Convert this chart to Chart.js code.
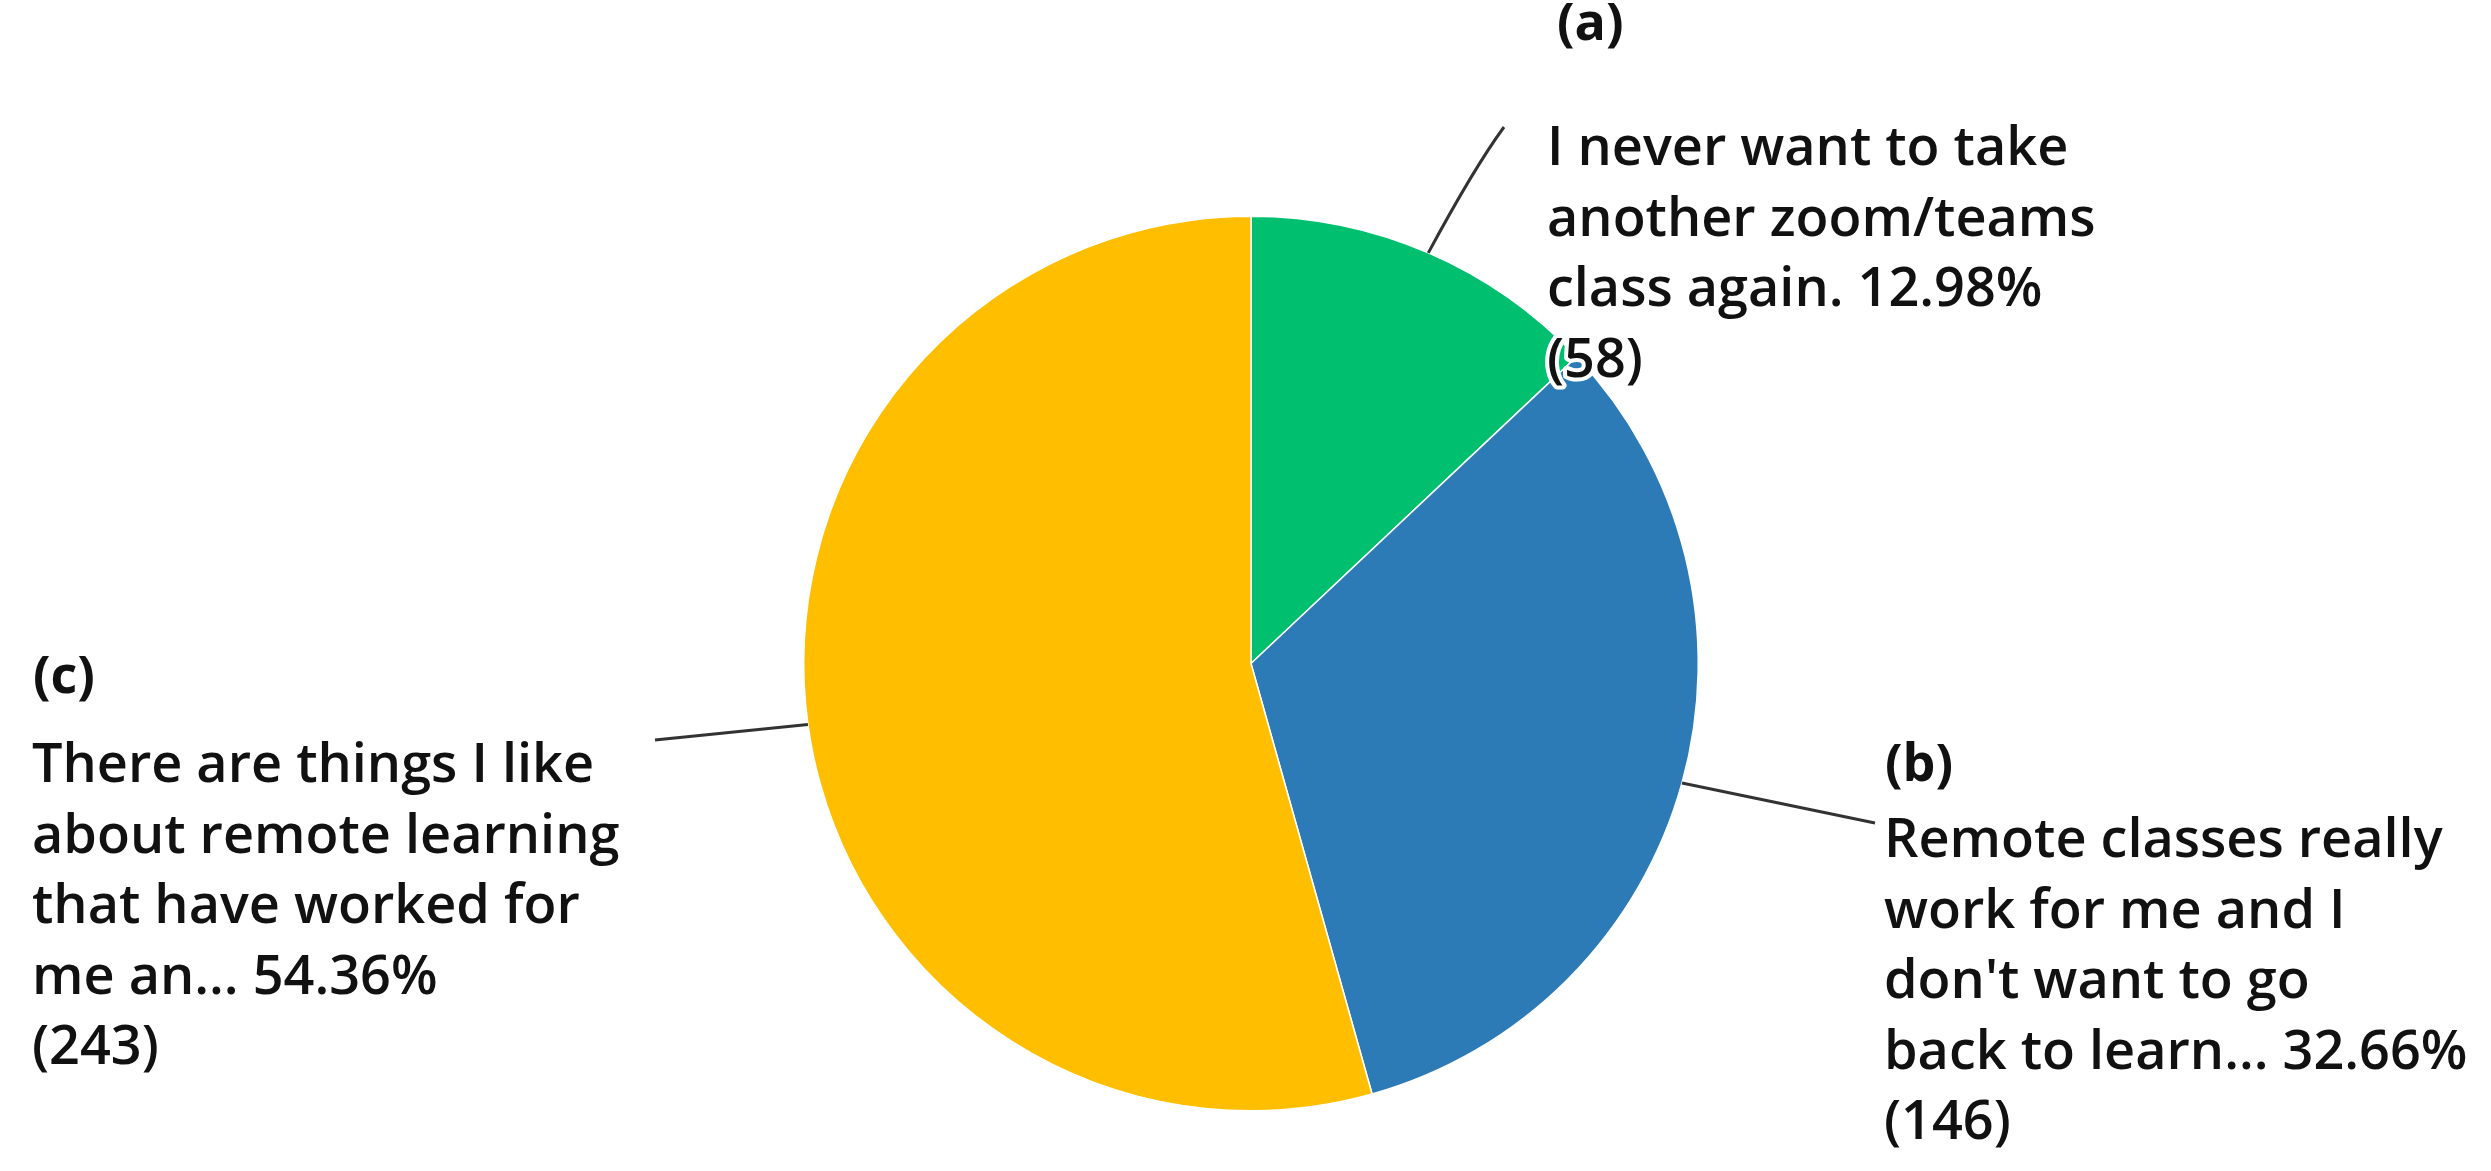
<!DOCTYPE html>
<html>
<head>
<meta charset="utf-8">
<script src="https://cdn.jsdelivr.net/npm/chart.js@4.4.1/dist/chart.umd.min.js"></script>
<style>
  html, body { margin: 0; padding: 0; background: #fff; }
  #wrap { width: 2491px; height: 1171px; position: relative; }
</style>
</head>
<body>
<div id="wrap"><canvas id="pie" width="2491" height="1171"></canvas></div>
<script>
// datos
const tags = ['(a)', '(b)', '(c)'];
const answers = [
    ['I never want to take', 'another zoom/teams', 'class again.'],
    ['Remote classes really', 'work for me and I', "don't want to go", 'back to learn...'],
    ['There are things I like', 'about remote learning', 'that have worked for', 'me an...']
];
const responses = [58, 146, 243];
const sliceColors = ['#00BF6F', '#2C7BB6', '#FFBE00'];

// posicion de cada bloque de texto y del final de su linea guia
const LINE_H = 70.5;
const FONT = '"Open Sans", "Noto Sans", sans-serif';
const labelPos = [
    { tagX: 1557, tagY: 25,  x: 1547, y: 150, end: [1504, 127], curve: [1474, 168] },
    { tagX: 1885, tagY: 766, x: 1884, y: 842, end: [1875, 823], curve: null },
    { tagX: 33,   tagY: 678, x: 32,   y: 767, end: [655, 740],  curve: null }
];

const total = responses.reduce((a, b) => a + b, 0);

function textLines(i) {
    const lines = answers[i].slice();
    const pct = (responses[i] / total * 100).toFixed(2);
    lines[lines.length - 1] += ' ' + pct + '%';
    lines.push('(' + responses[i] + ')');
    return lines;
}

// dibuja etiquetas y lineas guia
const calloutPlugin = {
    id: 'callouts',
    afterDraw(chart) {
        const ctx = chart.ctx;
        const meta = chart.getDatasetMeta(0);
        meta.data.forEach((arc, i) => {
            const p = arc.getProps(['x', 'y', 'startAngle', 'endAngle', 'outerRadius'], true);
            const mid = (p.startAngle + p.endAngle) / 2;
            const sx = p.x + Math.cos(mid) * p.outerRadius;
            const sy = p.y + Math.sin(mid) * p.outerRadius;
            const pos = labelPos[i];

            ctx.save();
            ctx.strokeStyle = '#333';
            ctx.lineWidth = 3;
            ctx.beginPath();
            ctx.moveTo(sx, sy);
            if (pos.curve) {
                ctx.quadraticCurveTo(pos.curve[0], pos.curve[1], pos.end[0], pos.end[1]);
            } else {
                ctx.lineTo(pos.end[0], pos.end[1]);
            }
            ctx.stroke();

            ctx.textBaseline = 'middle';
            ctx.textAlign = 'left';
            ctx.lineJoin = 'round';
            ctx.font = 'bold 52px ' + FONT;
            ctx.fillStyle = '#111';
            ctx.fillText(tags[i], pos.tagX, pos.tagY);

            ctx.font = '600 54px ' + FONT;
            textLines(i).forEach((line, k) => {
                const ty = pos.y + k * LINE_H;
                ctx.strokeStyle = '#fff';
                ctx.lineWidth = 8;
                ctx.strokeText(line, pos.x, ty);
                ctx.fillStyle = '#111';
                ctx.fillText(line, pos.x, ty);
            });
            ctx.restore();
        });
    }
};

new Chart(document.getElementById('pie'), {
    type: 'pie',
    data: {
        labels: tags,
        datasets: [{
            data: responses,
            backgroundColor: sliceColors,
            borderColor: '#fff',
            borderWidth: 1.5
        }]
    },
    options: {
        responsive: false,
        animation: false,
        devicePixelRatio: 1,
        layout: { padding: { top: 215, bottom: 59, left: 803, right: 792 } },
        plugins: {
            legend: { display: false },
            tooltip: { enabled: false }
        }
    },
    plugins: [calloutPlugin]
});
</script>
</body>
</html>
